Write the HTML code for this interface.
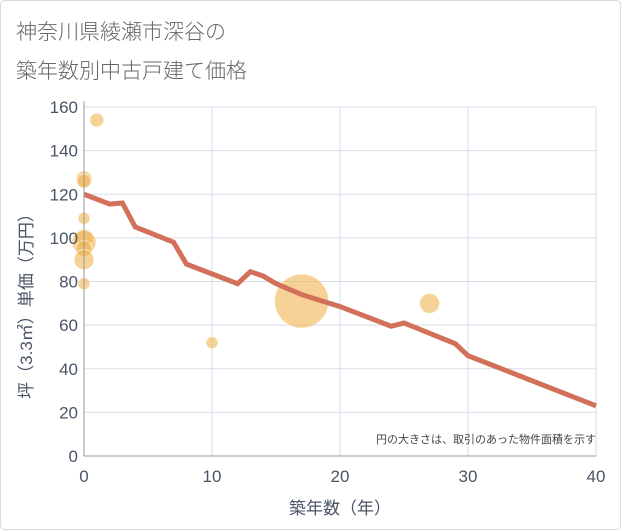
<!DOCTYPE html>
<html><head><meta charset="utf-8"><style>
body{margin:0;background:#fff;}
svg{display:block;font-family:"Liberation Sans","Noto Sans CJK JP",sans-serif;}
</style></head><body>
<svg width="621" height="530" id="chart">
<rect x="0.5" y="0.5" width="620" height="529" rx="4" fill="#fff" stroke="#d5dce5"/>
<text x="16" y="39" font-size="21" font-weight="300" fill="#666">神奈川県綾瀬市深谷の</text>
<text x="16" y="78" font-size="21" font-weight="300" fill="#666">築年数別中古戸建て価格</text>
<g id="grid"></g>
<g id="bubbles"></g>
<g id="lines"></g>
<g id="axes"></g>
<text x="596" y="443" font-size="11" fill="#444" text-anchor="end">円の大きさは、取引のあった物件面積を示す</text>
<text x="340" y="514" font-size="17" fill="#4a5566" text-anchor="middle">築年数（年）</text>
<text transform="translate(32,302) rotate(-90)" font-size="17" fill="#4a5566" text-anchor="middle">坪（3.3㎡）単価（万円）</text>
</svg>
<script>
const xTicks=[0,10,20,30,40];
const yTicks=[0,20,40,60,80,100,120,140,160];
const bubbleAges=[1,0,0,0,0,0,0,0,0,10,17,27];
const bubblePrices=[154,127,126,109,100,98,95,90,79,52,71,70];
const bubbleSizes=[7,8,7,6,9,12,8,10,6,6,27,10];
const lineAges=[0,2,3,4,7,8,12,13,14,15,17,20,24,25,29,30,40];
const linePrices=[120,115.5,116,105,98,88,79,84.5,82.5,79,74,68.5,59.5,61,51.5,46,23];
const NS="http://www.w3.org/2000/svg";
const X0=84,X1=596,Y0=456,Y1=107;
const sx=v=>X0+(v-0)/40*(X1-X0);
const sy=v=>Y0-(v-0)/160*(Y0-Y1);
function mk(t,a,p){const e=document.createElementNS(NS,t);for(const k in a)e.setAttribute(k,a[k]);p.appendChild(e);return e;}
const grid=document.getElementById('grid'),axes=document.getElementById('axes');
yTicks.forEach(v=>{
 const l=mk('line',{x1:X0,x2:X1,y1:sy(v),y2:sy(v),stroke:'#d5dde8','stroke-width':1},grid);
 
 
 const t=mk('text',{x:X0-6,y:sy(v)+6,'font-size':17,fill:'#4a5566','text-anchor':'end'},axes);
 t.textContent=v;
 
 
});
xTicks.forEach(v=>{
 const l=mk('line',{x1:sx(v),x2:sx(v),y1:Y1,y2:Y0,stroke:'#d5dde8','stroke-width':1},grid);
 
 
 const t=mk('text',{x:sx(v),y:Y0+26,'font-size':17,fill:'#4a5566','text-anchor':'middle'},axes);
 t.textContent=v;
 
 
});
const ax=mk('line',{x1:X0,x2:X0,y1:Y1-6,y2:Y0,stroke:'#999'},axes);


const ax2=mk('line',{x1:X0,x2:X1,y1:Y0,y2:Y0,stroke:'#999'},axes);


const bg=document.getElementById('bubbles');
bubbleAges.forEach((a,i)=>{
 const c=mk('circle',{cx:sx(a),cy:sy(bubblePrices[i]),r:bubbleSizes[i],fill:'rgba(240,180,80,0.6)',stroke:'rgba(255,255,255,0.6)','stroke-width':1},bg);
 
 
});
const pts=lineAges.map((a,i)=>sx(a)+','+sy(linePrices[i])).join(' ');
const pl=mk('polyline',{points:pts,fill:'none',stroke:'#d2705a','stroke-width':5,'stroke-linejoin':'miter'},document.getElementById('lines'));


</script>
</body></html>
